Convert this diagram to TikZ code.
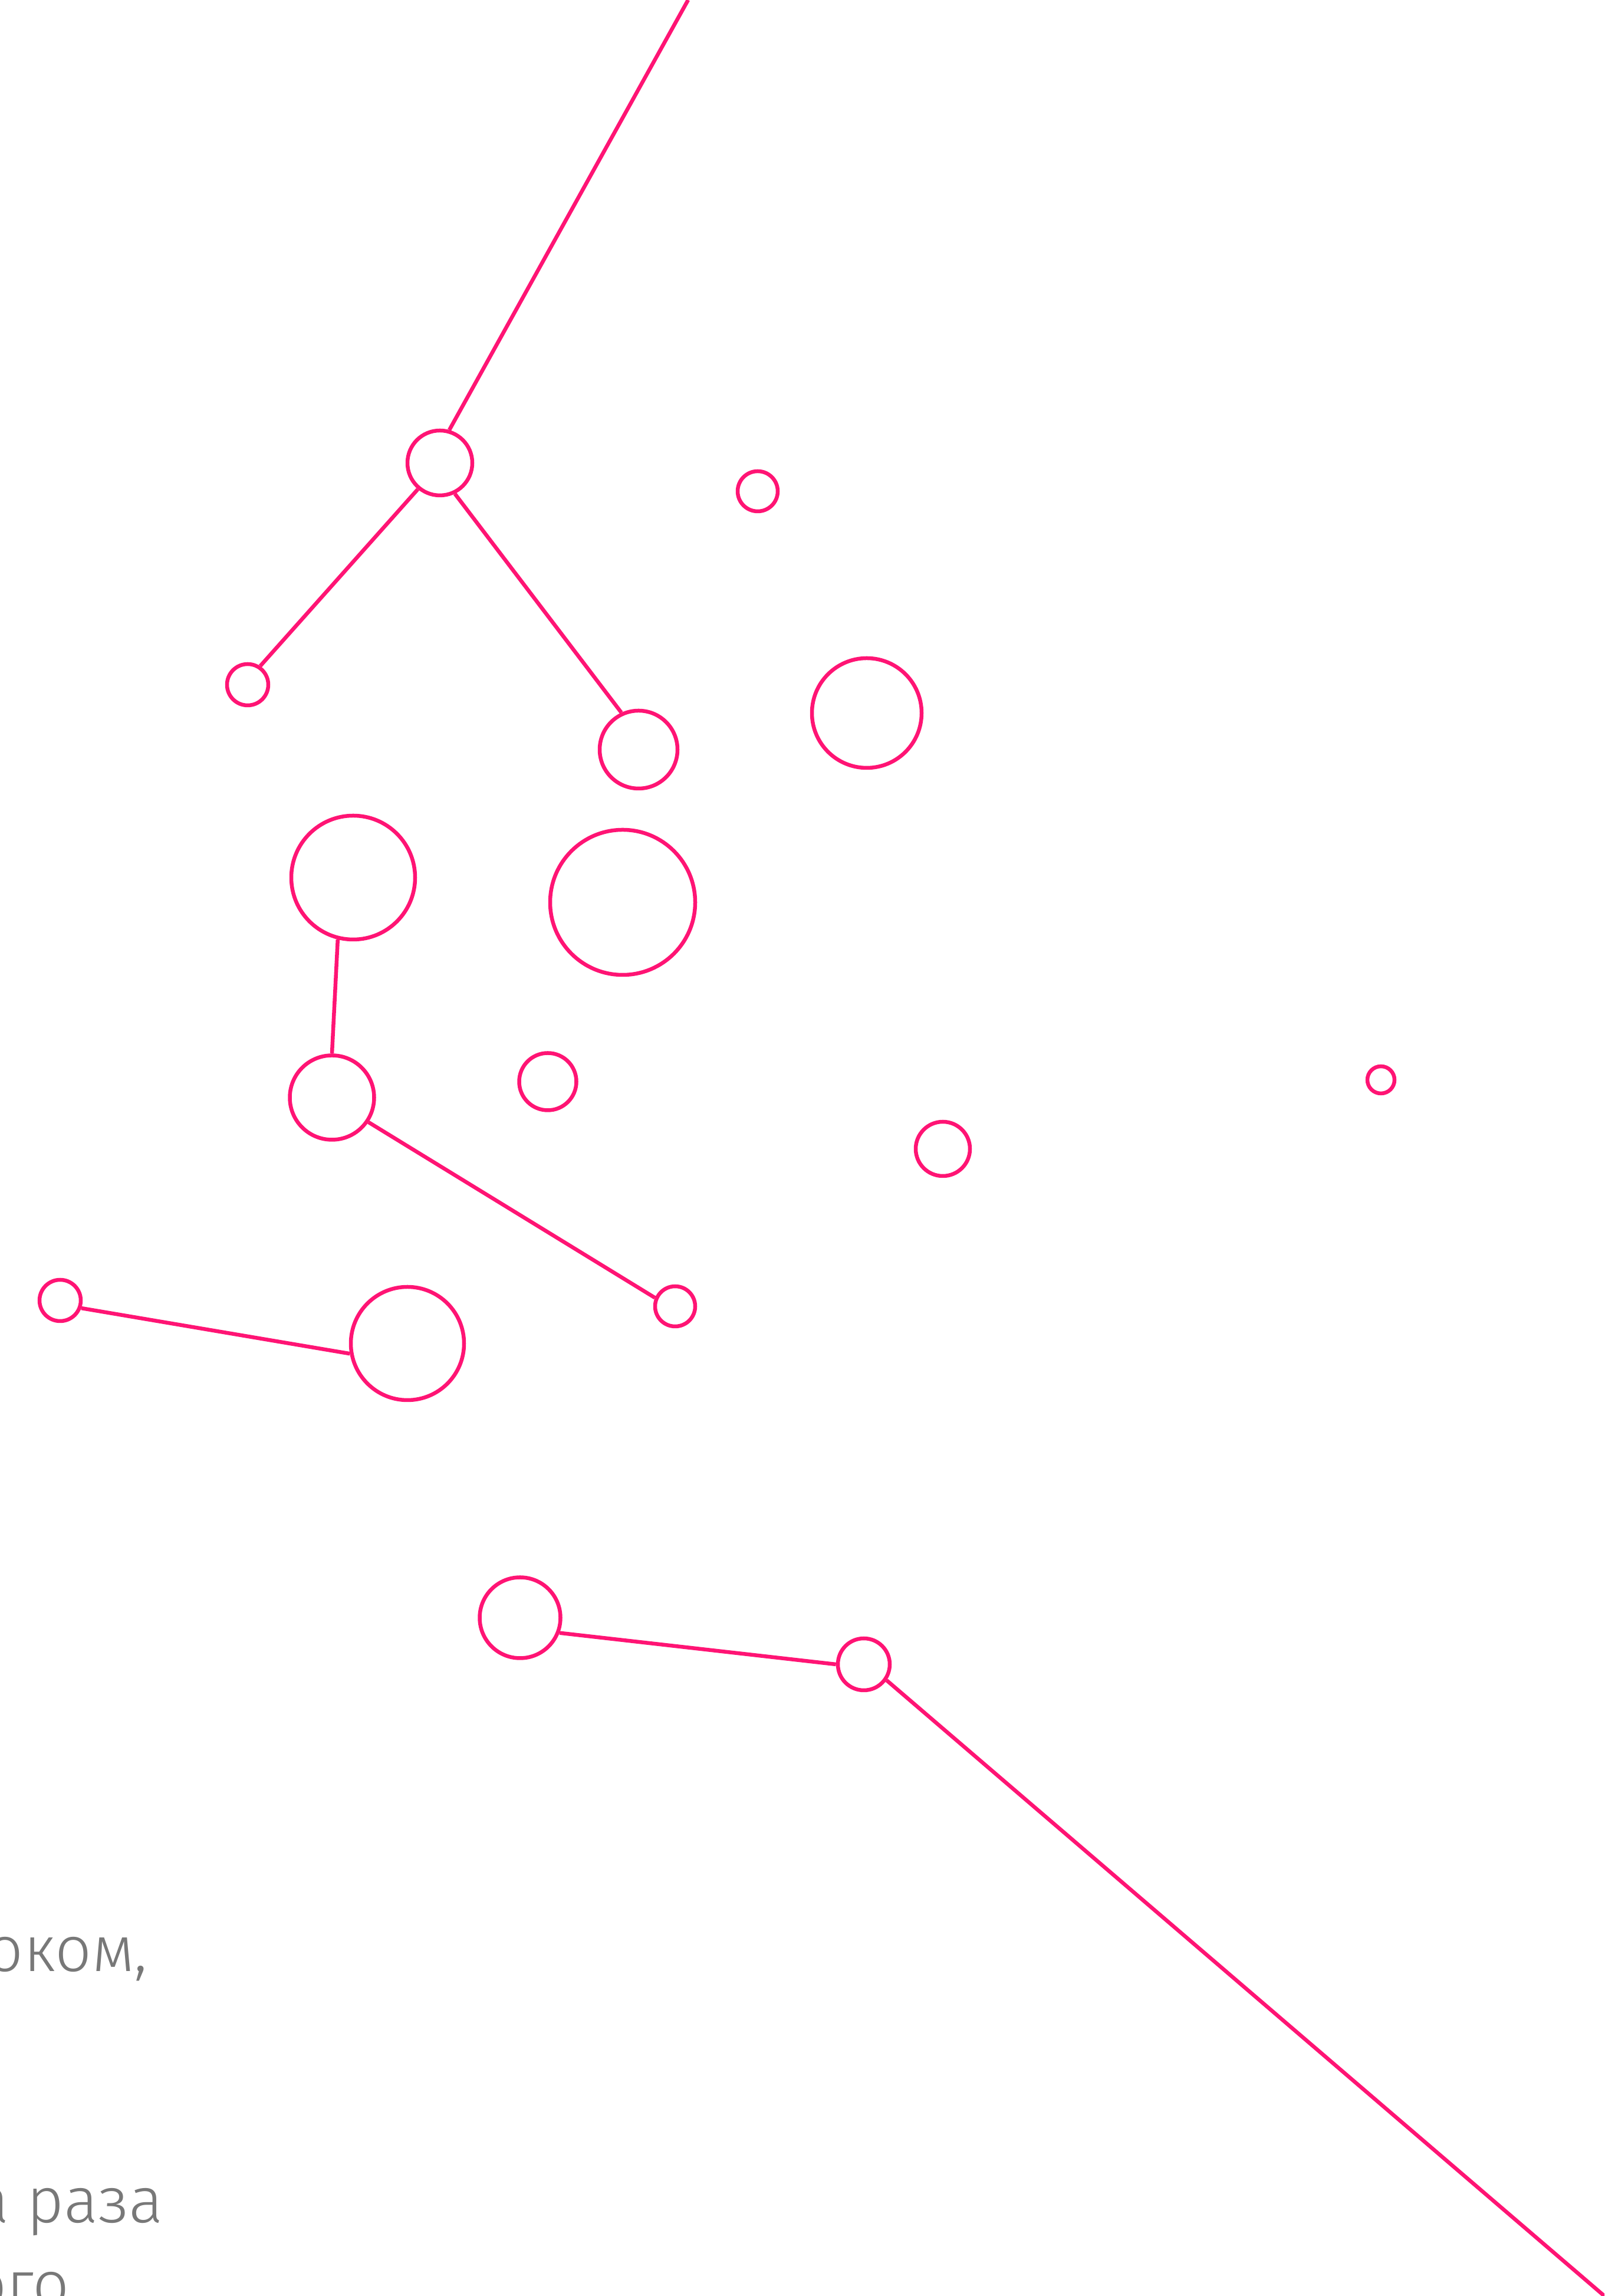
\documentclass[tikz,border=0pt]{standalone}
\usepackage{fontspec}
\setmainfont{Fira Sans}[UprightFont={* Light}]
\usepackage{xcolor}
\usepackage{tikz}
\usetikzlibrary{positioning}
\definecolor{starpink}{RGB}{255,20,116}
\definecolor{textgray}{RGB}{120,120,120}
\tikzset{
  star/.style={circle,draw=starpink,fill=white,line width=1.85pt,inner sep=0pt},
  link/.style={draw=starpink,line width=1.85pt},
  snippet/.style={anchor=base east,text=textgray,font=\fontsize{31}{37}\selectfont,inner sep=0pt}
}

\begin{document}
\begin{tikzpicture}
  % page frame
  \path[use as bounding box,clip] (0,0) rectangle (27.21,38.93);
  % text cut off at the left edge
  \node[snippet] (txta) at (2.51,5.50) {оком,};
  \node[snippet] (txtb) at (2.77,1.24) {а раза};
  \node[snippet] (txtc) at (1.18,-0.17) {ого};
  % stars
  \node[star,minimum size=1.10cm] (s1) at (7.46,31.08) {};
  \node[star,minimum size=0.68cm] (s2) at (12.85,30.60) {};
  \node[star,minimum size=0.70cm] (s3) at (4.20,27.32) {};
  \node[star,minimum size=1.32cm] (s4) at (10.83,26.22) {};
  \node[star,minimum size=1.86cm] (s5) at (14.70,26.84) {};
  \node[star,minimum size=2.10cm] (s6) at (5.99,24.05) {};
  \node[star,minimum size=2.46cm] (s7) at (10.56,23.63) {};
  \node[star,minimum size=1.43cm] (s8) at (5.63,20.32) {};
  \node[star,minimum size=0.97cm] (s9) at (9.29,20.59) {};
  \node[star,minimum size=0.92cm] (s10) at (15.99,19.45) {};
  \node[star,minimum size=0.46cm] (s11) at (23.42,20.62) {};
  \node[star,minimum size=0.70cm] (s12) at (1.02,16.88) {};
  \node[star,minimum size=1.92cm] (s13) at (6.91,16.15) {};
  \node[star,minimum size=0.68cm] (s14) at (11.45,16.78) {};
  \node[star,minimum size=1.37cm] (s15) at (8.82,11.50) {};
  \node[star,minimum size=0.88cm] (s16) at (14.65,10.71) {};
  % free ends at the page edges
  \coordinate (topend) at (11.67,38.93);
  \coordinate (cornerend) at (27.21,0);
  % links
  \draw[link] (topend) -- (s1.74);
  \draw[link] (s1.230) -- (s3.56);
  \draw[link] (s1.296) -- (s4.115);
  \draw[link] (s6.256) -- (s8.90);
  \draw[link] (s8.326) -- (s14.157);
  \draw[link] (s12.340) -- (s13.190);
  \draw[link] (s15.339) -- (s16.180);
  \draw[link] (s16.325) -- (cornerend);
\end{tikzpicture}
\end{document}
